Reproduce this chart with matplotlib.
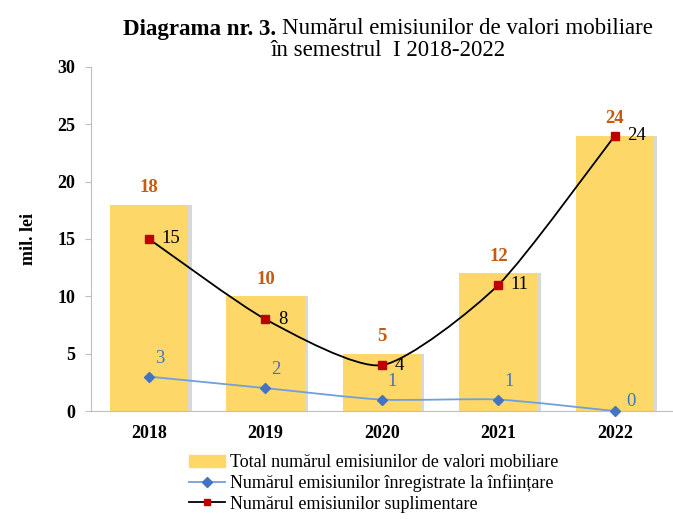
import numpy as np
import matplotlib
matplotlib.use("Agg")
import matplotlib.pyplot as plt
from matplotlib.path import Path
from matplotlib.patches import PathPatch
from matplotlib.lines import Line2D
from matplotlib.patches import Patch

plt.rcParams['font.family'] = ['Liberation Serif', 'DejaVu Serif']

years = ['2018', '2019', '2020', '2021', '2022']
total = [18, 10, 5, 12, 24]
infiintare = [3, 2, 1, 1, 0]
suplimentare = [15, 8, 4, 11, 24]

bar_col = '#FDD868'
blue = '#4472C4'
blue_line = '#6FA0DC'
red = '#C00000'
orange = '#C55A11'


def smooth_path(xs, ys, k=9.0):
    # smoothed line like in Excel: cubic bezier through the points
    xs = np.asarray(xs, float)
    ys = np.asarray(ys, float)
    n = len(xs)
    verts = [(xs[0], ys[0])]
    codes = [Path.MOVETO]
    for i in range(n - 1):
        p0 = (xs[max(i - 1, 0)], ys[max(i - 1, 0)])
        p1 = (xs[i], ys[i])
        p2 = (xs[i + 1], ys[i + 1])
        p3 = (xs[min(i + 2, n - 1)], ys[min(i + 2, n - 1)])
        c1 = (p1[0] + (p2[0] - p0[0]) / k, p1[1] + (p2[1] - p0[1]) / k)
        c2 = (p2[0] - (p3[0] - p1[0]) / k, p2[1] - (p3[1] - p1[1]) / k)
        verts += [c1, c2, p2]
        codes += [Path.CURVE4] * 3
    return Path(verts, codes)


fig = plt.figure(figsize=(6.73, 5.19), dpi=100)
ax = fig.add_axes([0.135, 0.208, 0.865, 0.663])

x = np.arange(len(years))
# shadow
ax.bar(x + 0.03, total, width=0.67, color='#BFBFBF', alpha=0.6, zorder=1)
ax.bar(x, total, width=0.67, color=bar_col, zorder=2)

ax.add_patch(PathPatch(smooth_path(x, infiintare), fill=False, edgecolor=blue_line, lw=1.3, zorder=3))
ax.plot(x, infiintare, linestyle='none', marker='D', ms=5.5, color=blue, zorder=4, clip_on=False)
ax.add_patch(PathPatch(smooth_path(x, suplimentare), fill=False, edgecolor='black', lw=1.3, zorder=3))
ax.plot(x, suplimentare, linestyle='none', marker='s', ms=5.5, color=red, zorder=4)

for i in range(len(years)):
    ax.annotate(str(total[i]), (x[i], total[i]), xytext=(0, 6), textcoords='offset points',
                ha='center', va='bottom', color=orange, fontsize=13.5, fontweight='bold')
    ax.annotate(str(suplimentare[i]), (x[i], suplimentare[i]), xytext=(9, 0), textcoords='offset points',
                ha='left', va='center', color='black', fontsize=13.5)
    off = (8, 1) if infiintare[i] == 0 else (4, 7)
    ax.annotate(str(infiintare[i]), (x[i], infiintare[i]), xytext=off, textcoords='offset points',
                ha='left', va='bottom', color=blue, fontsize=13.5)

ax.set_xlim(-0.5, len(years) - 0.5)
ax.set_ylim(0, 30)
ax.set_yticks([0, 5, 10, 15, 20, 25, 30])
ax.set_xticks(x)
ax.set_xticklabels(years)
for lab in ax.get_xticklabels() + ax.get_yticklabels():
    lab.set_fontweight('bold')
    lab.set_fontsize(13)
ax.tick_params(axis='x', length=0, pad=10)
ax.tick_params(axis='y', length=4, color='#BFBFBF', pad=7)
for s in ['top', 'right']:
    ax.spines[s].set_visible(False)
ax.spines['left'].set_color('#BFBFBF')
ax.spines['bottom'].set_color('#BFBFBF')
ax.set_ylabel('mil. lei', fontsize=13, fontweight='bold', labelpad=15)

# title with bold prefix
fig.canvas.draw()
r = fig.canvas.get_renderer()
t1 = fig.text(0, 0, 'Diagrama nr. 3. ', fontsize=16.5, fontweight='bold', va='center')
t2 = fig.text(0, 0, 'Numărul emisiunilor de valori mobiliare', fontsize=16.5, va='center')
w1 = t1.get_window_extent(r).width
w2 = t2.get_window_extent(r).width
cx = 0.577 * fig.bbox.width
x0 = cx - (w1 + w2) / 2
t1.set_position((x0 / fig.bbox.width, 1 - 29 / 519))
t2.set_position(((x0 + w1) / fig.bbox.width, 1 - 29 / 519))
fig.text(0.577, 1 - 51 / 519, 'în semestrul  I 2018-2022', fontsize=16.5, ha='center', va='center')

handles = [Patch(color=bar_col),
           Line2D([], [], color=blue_line, marker='D', ms=5, mfc=blue, mec=blue, lw=1.3),
           Line2D([], [], color='black', marker='s', ms=5, mfc=red, mec=red, lw=1.3)]
labels = ['Total numărul emisiunilor de valori mobiliare',
          'Numărul emisiunilor înregistrate la înființare',
          'Numărul emisiunilor suplimentare']
fig.legend(handles, labels, loc='lower left', bbox_to_anchor=(0.262, -0.012), frameon=False,
           fontsize=13, handlelength=2.0, handletextpad=0.25, labelspacing=0.18, borderpad=0.2)

fig.savefig('out.png', dpi=100)
